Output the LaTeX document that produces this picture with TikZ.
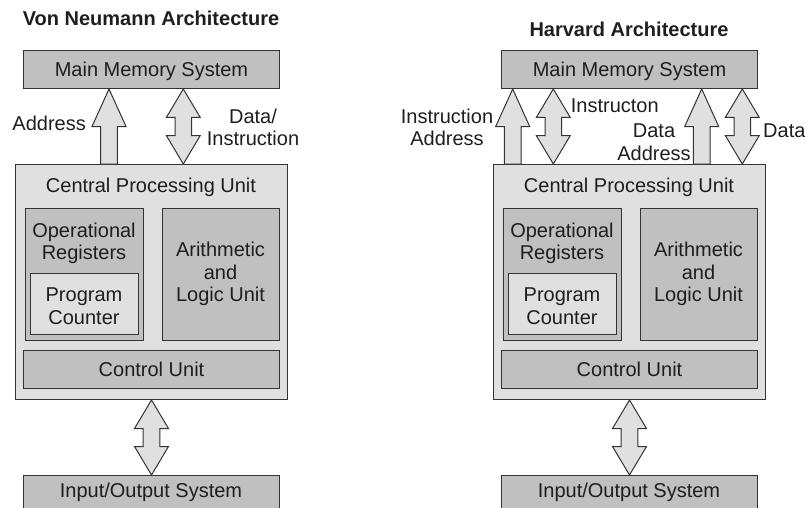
\documentclass[tikz,border=0pt]{standalone}
\usepackage{fontspec}
\setmainfont{Liberation Sans}
\usetikzlibrary{calc}
\definecolor{darkfill}{RGB}{192,192,192}
\definecolor{lightfill}{RGB}{224,224,224}
\definecolor{edgecol}{RGB}{51,51,51}
\definecolor{textcol}{RGB}{30,30,30}
% vertical block arrow pointing up: #1 tail coordinate, #2 tip coordinate
\newcommand\upblock[2]{%
  \draw[blockarrow] ($(#1)+(-8.3,0)$) -- ($(#2)+(-8.3,37.5)$) -- ($(#2)+(-17,37.5)$) -- (#2)
    -- ($(#2)+(17,37.5)$) -- ($(#2)+(8.3,37.5)$) -- ($(#1)+(8.3,0)$) -- cycle;}
% vertical double block arrow: #1 top tip, #2 bottom tip
\newcommand\dblblock[2]{%
  \draw[blockarrow] (#1) -- ($(#1)+(17,28.5)$) -- ($(#1)+(8.3,28.5)$) -- ($(#2)+(8.3,-28.5)$)
    -- ($(#2)+(17,-28.5)$) -- (#2) -- ($(#2)+(-17,-28.5)$) -- ($(#2)+(-8.3,-28.5)$)
    -- ($(#1)+(-8.3,28.5)$) -- ($(#1)+(-17,28.5)$) -- cycle;}
\begin{document}
\begin{tikzpicture}[x=1pt,y=-1pt,
  every node/.style={font=\fontsize{20pt}{22.3pt}\selectfont, text=textcol},
  darkbox/.style={draw=edgecol, line width=1pt, fill=darkfill, anchor=north west,
    inner sep=0pt, text height=14.3pt, text depth=0pt},
  lightbox/.style={darkbox, fill=lightfill},
  lbl/.style={inner sep=0pt, align=center, anchor=base},
  titlelbl/.style={inner sep=0pt, anchor=base, font=\fontsize{20pt}{24pt}\selectfont\bfseries},
  blockarrow/.style={draw=edgecol, line width=1pt, fill=lightfill, line join=miter}]
\useasboundingbox (0,0) rectangle (805,508);

% ---------------- Von Neumann ----------------
\node[titlelbl] (titleL) at (151,26) {Von Neumann Architecture};
\node[darkbox, minimum width=256pt, minimum height=38pt] (memL) at (23,50) {Main Memory System};
\node[lightbox, minimum width=272pt, minimum height=235pt] (cpuL) at (15,164) {};
\node[lbl] (cpuTL) at (151,192.5) {Central Processing Unit};
\node[darkbox, minimum width=118pt, minimum height=132pt] (opL) at (25,208) {};
\node[lbl] (opTL) at (84,259.5) {Operational\\Registers};
\node[lightbox, minimum width=108pt, minimum height=61pt] (pcL) at (30,273) {};
\node[lbl] (pcTL) at (84,324) {Program\\Counter};
\node[darkbox, minimum width=117pt, minimum height=132pt] (aluL) at (162,208) {};
\node[lbl] (aluTL) at (220.5,301.5) {Arithmetic\\and\\Logic Unit};
\node[darkbox, minimum width=256pt, minimum height=38pt] (cuL) at (23,350) {Control Unit};
\node[darkbox, minimum width=256pt, minimum height=45pt] (ioL) at (23,475) {};
\node[lbl] (ioTL) at (151,497.5) {Input/Output System};

\coordinate (aTipL) at ($(memL.south west)+(86,0)$);
\coordinate (aTailL) at ($(cpuL.north west)+(94,0)$);
\coordinate (dTopL) at ($(memL.south west)+(160.3,0)$);
\coordinate (dBotL) at ($(cpuL.north west)+(168.3,0)$);
\upblock{aTailL}{aTipL}
\dblblock{dTopL}{dBotL}
\dblblock{cpuL.south}{ioL.north}
\node[lbl, anchor=base east] (addrL) at (86,131) {Address};
\node[lbl] (dataL) at (253,146) {Data/\\Instruction};

% ---------------- Harvard ----------------
\node[titlelbl] (titleR) at (629,36.7) {Harvard Architecture};
\node[darkbox, minimum width=256pt, minimum height=38pt] (memR) at (501,50) {Main Memory System};
\node[lightbox, minimum width=272pt, minimum height=235pt] (cpuR) at (493,164) {};
\node[lbl] (cpuTR) at (629,192.5) {Central Processing Unit};
\node[darkbox, minimum width=118pt, minimum height=132pt] (opR) at (503,208) {};
\node[lbl] (opTR) at (562,259.5) {Operational\\Registers};
\node[lightbox, minimum width=108pt, minimum height=61pt] (pcR) at (508,273) {};
\node[lbl] (pcTR) at (562,324) {Program\\Counter};
\node[darkbox, minimum width=117pt, minimum height=132pt] (aluR) at (640,208) {};
\node[lbl] (aluTR) at (698.5,301.5) {Arithmetic\\and\\Logic Unit};
\node[darkbox, minimum width=256pt, minimum height=38pt] (cuR) at (501,350) {Control Unit};
\node[darkbox, minimum width=256pt, minimum height=45pt] (ioR) at (501,475) {};
\node[lbl] (ioTR) at (629,497.5) {Input/Output System};

\coordinate (iaTipR) at ($(memR.south west)+(11.7,0)$);
\coordinate (iaTailR) at ($(cpuR.north west)+(19.7,0)$);
\coordinate (iTopR) at ($(memR.south west)+(52.3,0)$);
\coordinate (iBotR) at ($(cpuR.north west)+(60.3,0)$);
\coordinate (daTipR) at ($(memR.south west)+(200.7,0)$);
\coordinate (daTailR) at ($(cpuR.north west)+(208.7,0)$);
\coordinate (dTopR) at ($(memR.south west)+(241.3,0)$);
\coordinate (dBotR) at ($(cpuR.north west)+(249.3,0)$);
\upblock{iaTailR}{iaTipR}
\dblblock{iTopR}{iBotR}
\upblock{daTailR}{daTipR}
\dblblock{dTopR}{dBotR}
\dblblock{cpuR.south}{ioR.north}
\node[lbl] (iaTR) at (447,145.7) {Instruction\\Address};
\node[lbl, anchor=base west] (iTR) at (570.7,112.3) {Instructon};
\node[lbl] (daTR) at (654,160) {Data\\Address};
\node[lbl, anchor=base west] (dTR) at (763,137.3) {Data};
\end{tikzpicture}
\end{document}
